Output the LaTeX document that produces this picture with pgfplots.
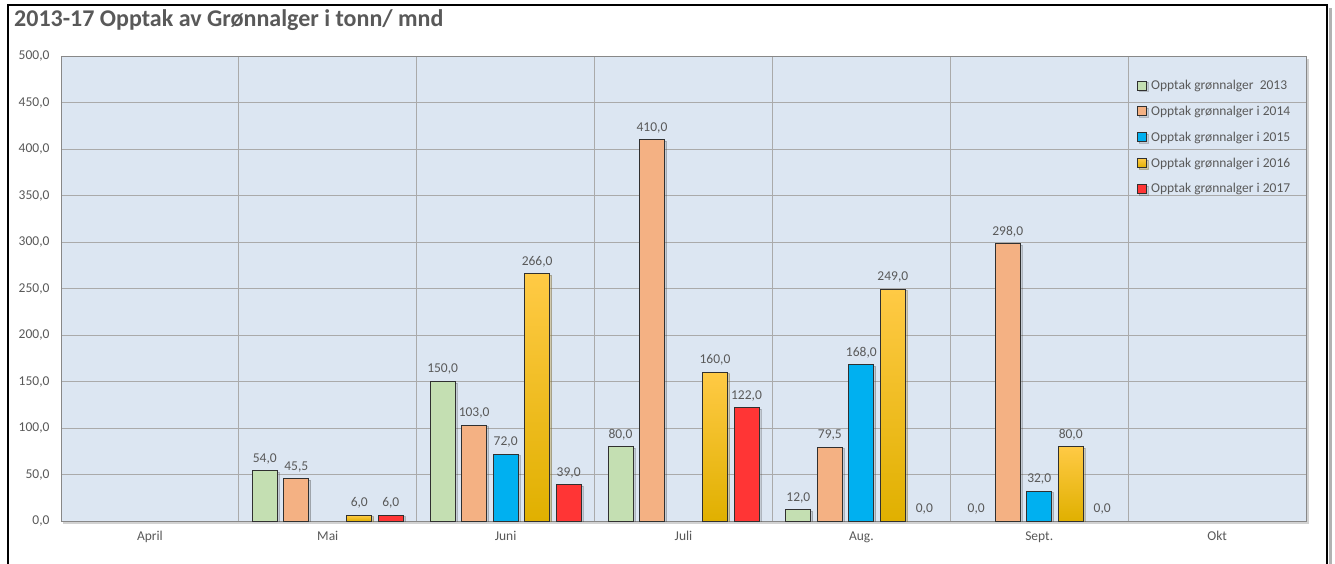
\documentclass[border=0pt]{standalone}
\usepackage{fontspec}
\setmainfont{Carlito}
\usepackage{pgfplots}
\pgfplotsset{compat=1.18}
\usetikzlibrary{shadows}
\definecolor{bgblue}{HTML}{DCE6F2}
\definecolor{gridgray}{HTML}{AAAAAA}
\definecolor{txtgray}{HTML}{595959}
\definecolor{c13}{HTML}{C4DFB2}
\definecolor{c14}{HTML}{F4B183}
\definecolor{c15}{HTML}{00B0F0}
\definecolor{c16}{HTML}{FFC000}
\definecolor{c16t}{HTML}{FFCA45}
\definecolor{c16b}{HTML}{E0B000}
\definecolor{c17}{HTML}{FF3535}
\definecolor{edge}{HTML}{303030}
\pgfplotsset{/pgf/number format/assume math mode=true}
\begin{document}
\begin{tikzpicture}[x=1pt,y=1pt]
\useasboundingbox (-61,-42) rectangle (1274,521);
\fill[white] (-61,-42) rectangle (1274,521);
\draw[gray!60, line width=3pt] (1269,-50) -- (1269,513);
\draw[line width=2.5pt] (-53,-50) -- (-53,516) -- (1266,516) -- (1266,-50);
\node[anchor=base west, font=\fontsize{24}{28}\selectfont\bfseries, text=txtgray, inner sep=0pt] at (-47,494) {2013-17 Opptak av Grønnalger i tonn/ mnd};
\begin{axis}[
  at={(0,0)}, anchor=south west,
  scale only axis, width=1245pt, height=465pt,
  ymin=0, ymax=500, ytick={0,50,...,500},
  xmin=-0.5, xmax=6.5, xtick={0,...,6},
  xticklabels={April,Mai,Juni,Juli,Aug.,Sept.,Okt},
  minor xtick={0.5,1.5,2.5,3.5,4.5,5.5},
  ymajorgrids, xminorgrids,
  major grid style={gridgray, line width=0.9pt},
  minor grid style={gridgray, line width=0.9pt},
  major tick length=0pt, minor tick length=0pt,
  axis line style={gridgray!80!black, line width=0.9pt},
  axis background/.style={fill=bgblue, drop shadow={shadow xshift=2.5pt, shadow yshift=-2.5pt, opacity=0.35}},
  ticklabel style={font=\fontsize{13.5}{15}\selectfont, text=txtgray},
  yticklabel style={xshift=-8pt, /pgf/number format/.cd, fixed, fixed zerofill, precision=1, use comma},
  xticklabel style={yshift=-7pt},
  ybar, bar width=25pt,
  nodes near coords={\pgfmathprintnumber[fixed,fixed zerofill,precision=1,use comma]{\pgfplotspointmeta}},
  every node near coord/.append style={font=\fontsize{13.5}{15}\selectfont, text=txtgray, yshift=3pt},
  legend style={at={(0.864,0.953)}, anchor=north west, draw=none, fill=none,
    font=\fontsize{13.5}{15}\selectfont, text=txtgray, row sep=11pt, column sep=2.5pt, inner sep=0pt},
  legend cell align=left,
  legend image code/.code={\draw[#1, line width=0.8pt] (0pt,-4.5pt) rectangle (9pt,4.5pt);},
  every axis plot/.append style={draw=edge, line width=0.9pt},
  shd/.style={drop shadow={shadow xshift=2pt, shadow yshift=-1.5pt, opacity=0.25}},
  zero/.style={draw=none, fill=none, forget plot},
]
\addplot[fill=c13, bar shift=-63pt, shd] coordinates {(1,54) (2,150) (3,80) (4,12)};
\addplot[fill=c14, bar shift=-31.5pt, shd] coordinates {(1,45.5) (2,103) (3,410) (4,79.5) (5,298)};
\addplot[fill=c15, bar shift=0pt, shd] coordinates {(2,72) (4,168) (5,32)};
\addplot[top color=c16t, middle color=c16, bottom color=c16b, bar shift=31.5pt, shd] coordinates {(2,266)};
\addplot[forget plot, top color=c16t, middle color=c16, bottom color=c16b, bar shift=31.5pt, shd] coordinates {(1,6)};
\addplot[forget plot, top color=c16t, middle color=c16, bottom color=c16b, bar shift=31.5pt, shd] coordinates {(3,160)};
\addplot[forget plot, top color=c16t, middle color=c16, bottom color=c16b, bar shift=31.5pt, shd] coordinates {(4,249)};
\addplot[forget plot, top color=c16t, middle color=c16, bottom color=c16b, bar shift=31.5pt, shd] coordinates {(5,80)};
\addplot[fill=c17, bar shift=63pt, shd] coordinates {(1,6) (2,39) (3,122)};
\addplot[zero, bar shift=-63pt] coordinates {(5,0)};
\addplot[zero, bar shift=63pt] coordinates {(4,0) (5,0)};
\legend{Opptak grønnalger\ \ 2013, Opptak grønnalger i 2014, Opptak grønnalger i 2015, Opptak grønnalger i 2016, Opptak grønnalger i 2017}
\end{axis}
\end{tikzpicture}
\end{document}
